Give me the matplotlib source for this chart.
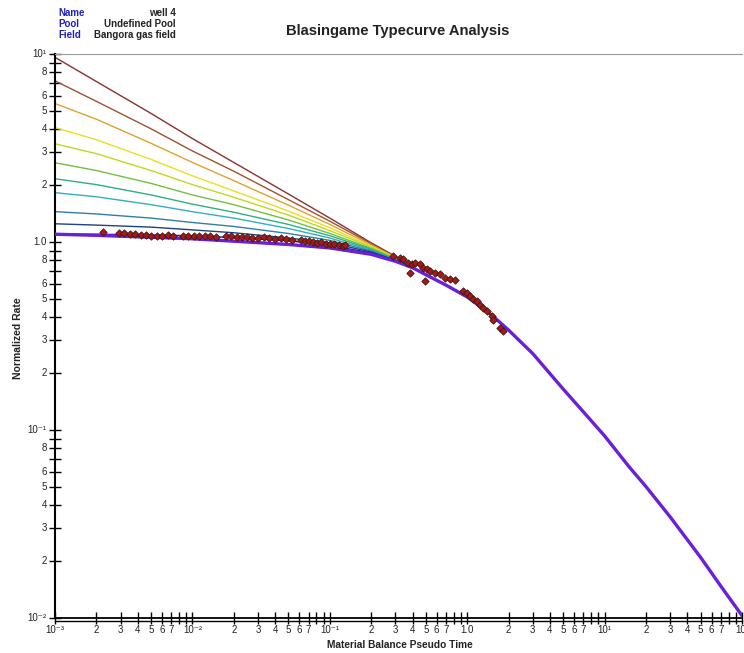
import matplotlib
matplotlib.use("Agg")
import matplotlib.pyplot as plt
from matplotlib.ticker import FixedLocator, NullFormatter
from matplotlib.lines import Line2D

plt.rcParams['font.family'] = ['Liberation Sans', 'DejaVu Sans']

# ---------------- data ----------------
stem_x = [0.001, 0.002, 0.005, 0.01, 0.02, 0.05, 0.1, 0.2, 0.3, 0.4]
stems = [
    [9.6, 7.14, 4.83, 3.55, 2.65, 1.80, 1.34, 0.99, 0.84, 0.76],
    [7.2, 5.6, 4.0, 3.05, 2.38, 1.68, 1.29, 0.98, 0.835, 0.755],
    [5.45, 4.5, 3.35, 2.65, 2.12, 1.57, 1.24, 0.965, 0.83, 0.75],
    [4.06, 3.5, 2.75, 2.25, 1.87, 1.46, 1.19, 0.95, 0.825, 0.745],
    [3.33, 2.95, 2.4, 2.02, 1.73, 1.39, 1.15, 0.94, 0.82, 0.74],
    [2.64, 2.4, 2.05, 1.78, 1.58, 1.31, 1.11, 0.925, 0.815, 0.74],
    [2.17, 2.02, 1.78, 1.59, 1.44, 1.24, 1.08, 0.915, 0.81, 0.735],
    [1.83, 1.74, 1.58, 1.45, 1.34, 1.18, 1.05, 0.905, 0.805, 0.735],
    [1.45, 1.41, 1.34, 1.27, 1.21, 1.11, 1.02, 0.895, 0.80, 0.73],
    [1.25, 1.23, 1.2, 1.16, 1.12, 1.05, 0.99, 0.885, 0.80, 0.73],
    [1.10, 1.10, 1.09, 1.08, 1.055, 1.015, 0.96, 0.875, 0.795, 0.73],
]
stem_colors = ['#8B3030', '#A0522D', '#E0A030', '#E8E020', '#C0D820', '#70C040',
               '#30B080', '#30B0C0', '#3080A0', '#204080', '#2020A0']

main_x = [0.001, 0.002, 0.005, 0.01, 0.02, 0.05, 0.1, 0.2, 0.3, 0.4, 0.5, 0.7, 1.0, 1.5,
          2.0, 3.0, 5.0, 7.0, 10.0, 15.0, 20.0, 30.0, 50.0, 70.0, 100.0]
main_y = [1.10, 1.085, 1.06, 1.04, 1.01, 0.97, 0.93, 0.86, 0.79, 0.73, 0.67, 0.59, 0.51, 0.41,
          0.34, 0.255, 0.165, 0.125, 0.093, 0.064, 0.050, 0.0345, 0.021, 0.0148, 0.0103]

data_x = [0.00225, 0.0029, 0.0032, 0.0035, 0.0038, 0.0042, 0.0046, 0.0050, 0.0055, 0.0060,
          0.0066, 0.0072, 0.0085, 0.0093, 0.0102, 0.0112, 0.0123, 0.0135, 0.0148, 0.0175,
          0.019, 0.021, 0.023, 0.025, 0.027, 0.030, 0.033, 0.036, 0.040, 0.044, 0.048, 0.053,
          0.062, 0.066, 0.071, 0.076, 0.081, 0.087, 0.094, 0.101, 0.108, 0.116, 0.124, 0.130,
          0.290, 0.324, 0.343, 0.373, 0.394, 0.417, 0.453, 0.384, 0.479, 0.507, 0.536, 0.583,
          0.634, 0.493, 0.689, 0.749, 0.815, 0.937, 0.991, 1.05, 1.11, 1.17, 1.24, 1.31,
          1.39, 1.51, 1.55, 1.73, 1.83]
data_y = [1.13, 1.11, 1.11, 1.10, 1.10, 1.09, 1.09, 1.08, 1.08, 1.08,
          1.09, 1.08, 1.07, 1.08, 1.07, 1.07, 1.08, 1.07, 1.06, 1.07,
          1.07, 1.06, 1.06, 1.06, 1.05, 1.05, 1.06, 1.05, 1.04, 1.05, 1.04, 1.03,
          1.02, 1.01, 1.01, 1.00, 0.99, 1.00, 0.98, 0.97, 0.97, 0.96, 0.95, 0.96,
          0.842, 0.825, 0.808, 0.776, 0.760, 0.776, 0.760, 0.686, 0.729, 0.715, 0.700, 0.686,
          0.673, 0.619, 0.645, 0.632, 0.625, 0.552, 0.537, 0.515, 0.495, 0.484, 0.465, 0.446,
          0.428, 0.403, 0.387, 0.349, 0.335]

x_major = [1e-3, 1e-2, 1e-1, 1.0, 1e1, 1e2]
x_major_labels = ['10\u207b\u00b3', '10\u207b\u00b2', '10\u207b\u00b9', '1.0', '10\u00b9', '10\u00b2']
y_major = [1e-2, 1e-1, 1.0, 1e1]
y_major_labels = ['10\u207b\u00b2', '10\u207b\u00b9', '1.0', '10\u00b9']
x_minor_labelled = ['2', '3', '4', '5', '6', '7']
y_minor_labelled = ['2', '3', '4', '5', '6', '8']

info_keys = ['Name', 'Pool', 'Field']
info_vals = ['well 4', 'Undefined Pool', 'Bangora gas field']

# ---------------- figure ----------------
W, H = 744, 653
fig = plt.figure(figsize=(W / 100, H / 100), dpi=100)
ax = fig.add_axes([55 / W, 1 - 618 / H, (742 - 55) / W, (618 - 54) / H])
ax.set_xscale('log')
ax.set_yscale('log')
ax.set_xlim(1e-3, 1e2)
ax.set_ylim(1e-2, 1e1)

for ys, c in zip(stems, stem_colors):
    ax.plot(stem_x, ys, color=c, lw=1.0, zorder=2)
ax.plot(main_x, main_y, color='#6A1FD8', lw=2.4, zorder=3)
ax.scatter(data_x, data_y, marker='D', s=14, facecolor='#A81818', edgecolor='#3a1a10',
           linewidths=0.6, zorder=4)

# spines
ax.spines['right'].set_visible(False)
ax.spines['top'].set_color('#999999')
ax.spines['top'].set_linewidth(0.8)
ax.spines['left'].set_linewidth(1.5)
ax.spines['bottom'].set_linewidth(1.3)
fig.add_artist(Line2D([55 / W, 742 / W], [1 - 621 / H, 1 - 621 / H], color='black', lw=1.0))

# ticks
x_minor = [k * d for d in [1e-3, 1e-2, 1e-1, 1.0, 1e1] for k in range(2, 10)]
y_minor = [k * d for d in [1e-2, 1e-1, 1.0] for k in range(2, 10)]
ax.xaxis.set_major_locator(FixedLocator(x_major))
ax.xaxis.set_minor_locator(FixedLocator(x_minor))
ax.yaxis.set_major_locator(FixedLocator(y_major))
ax.yaxis.set_minor_locator(FixedLocator(y_minor))
for a in (ax.xaxis, ax.yaxis):
    a.set_major_formatter(NullFormatter())
    a.set_minor_formatter(NullFormatter())
ax.tick_params(which='both', direction='inout', length=8, width=1.0, color='black',
               top=False, right=False)

lab = dict(fontsize=7, color='#222222')
for v, t in zip(x_major, x_major_labels):
    ax.text(v, -0.012, t, transform=ax.get_xaxis_transform(), ha='center', va='top', **lab)
for d in [1e-3, 1e-2, 1e-1, 1.0, 1e1]:
    for k, t in zip(range(2, 8), x_minor_labelled):
        ax.text(k * d, -0.012, t, transform=ax.get_xaxis_transform(), ha='center', va='top', **lab)
for v, t in zip(y_major, y_major_labels):
    ax.text(-0.012, v, t, transform=ax.get_yaxis_transform(), ha='right', va='center', **lab)
for d in [1e-2, 1e-1, 1.0]:
    for k, t in zip([2, 3, 4, 5, 6, 8], y_minor_labelled):
        ax.text(-0.012, k * d, t, transform=ax.get_yaxis_transform(), ha='right', va='center', **lab)

fig.text(400 / W, 1 - 645 / H, 'Material Balance Pseudo Time', ha='center', va='center',
         fontsize=7.3, fontweight='bold', color='#222222')
fig.text(18 / W, 1 - 338 / H, 'Normalized Rate', ha='center', va='center', rotation=90,
         fontsize=7.5, fontweight='bold', color='#222222')
fig.text(398 / W, 1 - 31 / H, 'Blasingame Typecurve Analysis', ha='center', va='center',
         fontsize=10.6, fontweight='bold', color='#222222')

for i, (k, v) in enumerate(zip(info_keys, info_vals)):
    yy = 1 - (13 + i * 11) / H
    fig.text(58 / W, yy, k, ha='left', va='center', fontsize=7, color='#2020C0', fontweight='bold')
    fig.text(176 / W, yy, v, ha='right', va='center', fontsize=7, color='#222222', fontweight='bold')

fig.savefig('out.png', dpi=100)
